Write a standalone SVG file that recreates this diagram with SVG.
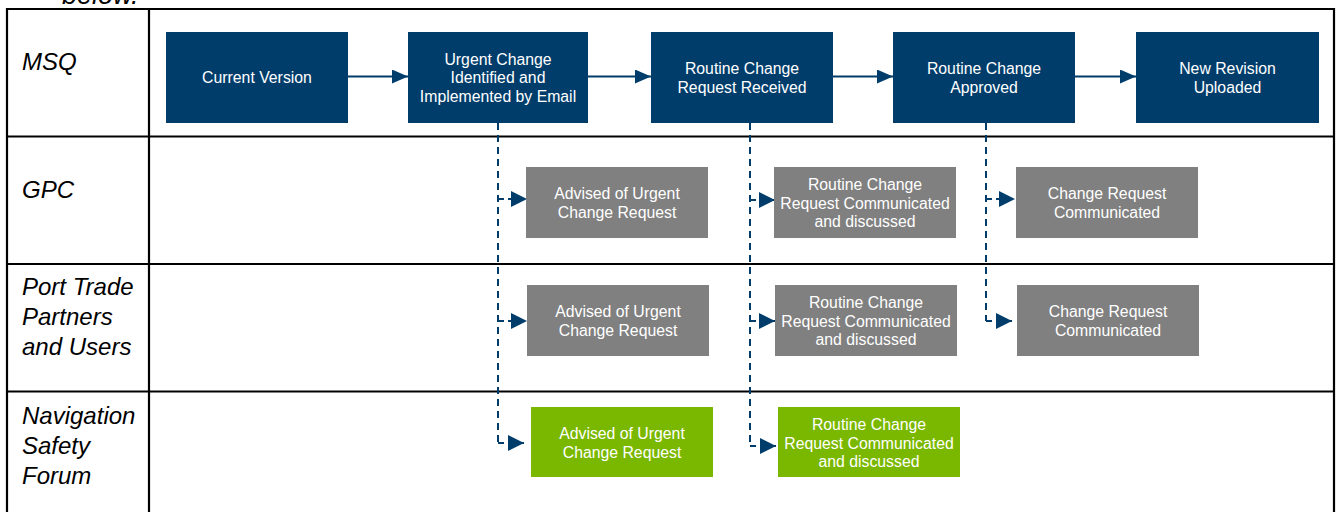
<svg xmlns="http://www.w3.org/2000/svg" width="1338" height="512" viewBox="0 0 1338 512">
<style>
.lane{font-family:"Liberation Sans",Arial,sans-serif;font-style:italic;font-size:24px;fill:#000}
.t{font-family:"Liberation Sans",Arial,sans-serif;font-size:15.8px;fill:#fff;text-anchor:middle}
.msq{fill:#003D6B}
.grey{fill:#808080}
.green{fill:#7AB800}
.grid{stroke:#000;stroke-width:2.2;fill:none}
.solid{stroke:#003D6B;stroke-width:2.2;fill:none;marker-end:url(#ah)}
.dash{stroke:#003D6B;stroke-width:2;fill:none;stroke-dasharray:7 5}
.dh{stroke:#003D6B;stroke-width:2;fill:none;stroke-dasharray:6 4;marker-end:url(#ah2)}
</style>
<defs>
<marker id="ah" markerUnits="userSpaceOnUse" markerWidth="17" markerHeight="15" refX="16" refY="7" orient="auto"><path d="M0,0 L16,7 L0,14 z" fill="#003D6B"/></marker>
<marker id="ah2" markerUnits="userSpaceOnUse" markerWidth="17" markerHeight="17" refX="16" refY="8" orient="auto"><path d="M0,0 L16,8 L0,16 z" fill="#003D6B"/></marker>
</defs>
<rect width="1338" height="512" fill="#fff"/>
<text x="62" y="3.5" font-family="Liberation Sans, Arial, sans-serif" font-style="italic" font-size="27">below.</text>
<g id="table">
<path class="grid" d="M7,520 V9 H1334 V520 M149,9 V520 M7,136.5 H1334 M7,264 H1334 M7,391.5 H1334"/>
</g>
<g id="lane-labels">
<text class="lane" x="22" y="70">MSQ</text>
<text class="lane" x="22" y="198">GPC</text>
<text class="lane" x="22" y="295">Port Trade</text>
<text class="lane" x="22" y="325">Partners</text>
<text class="lane" x="22" y="355">and Users</text>
<text class="lane" x="22" y="424">Navigation</text>
<text class="lane" x="22" y="454">Safety</text>
<text class="lane" x="22" y="484">Forum</text>
</g>
<g id="connectors">
<path class="solid" d="M348,76.5 H408"/>
<path class="solid" d="M588,76.5 H651"/>
<path class="solid" d="M833,76.5 H893"/>
<path class="solid" d="M1075,76.5 H1136"/>
<path class="dash" d="M498,123 V443"/>
<path class="dash" d="M750,123 V446"/>
<path class="dash" d="M986,123 V321"/>
<path class="dh" d="M498,199 H527"/>
<path class="dh" d="M498,321 H527"/>
<path class="dh" d="M498,443 H524"/>
<path class="dh" d="M750,200 H775"/>
<path class="dh" d="M750,321 H775"/>
<path class="dh" d="M750,446 H776"/>
<path class="dh" d="M986,199 H1015"/>
<path class="dh" d="M986,321 H1012"/>
</g>
<g id="msq-current">
<rect class="msq" x="166" y="32" width="182" height="91"/>
<text class="t" x="257" y="83">Current Version</text>
</g>
<g id="msq-urgent">
<rect class="msq" x="408" y="32" width="180" height="91"/>
<text class="t" x="498" y="65">Urgent Change</text>
<text class="t" x="498" y="83">Identified and</text>
<text class="t" x="498" y="101.5">Implemented by Email</text>
</g>
<g id="msq-received">
<rect class="msq" x="651" y="32" width="182" height="91"/>
<text class="t" x="742" y="74">Routine Change</text>
<text class="t" x="742" y="92.5">Request Received</text>
</g>
<g id="msq-approved">
<rect class="msq" x="893" y="32" width="182" height="91"/>
<text class="t" x="984" y="74">Routine Change</text>
<text class="t" x="984" y="92.5">Approved</text>
</g>
<g id="msq-uploaded">
<rect class="msq" x="1136" y="32" width="183" height="91"/>
<text class="t" x="1227.5" y="74">New Revision</text>
<text class="t" x="1227.5" y="92.5">Uploaded</text>
</g>
<g id="gpc-advised">
<rect class="grey" x="526" y="167" width="182" height="71"/>
<text class="t" x="617" y="199">Advised of Urgent</text>
<text class="t" x="617" y="217.5">Change Request</text>
</g>
<g id="gpc-routine">
<rect class="grey" x="774" y="167" width="182" height="71"/>
<text class="t" x="865" y="190">Routine Change</text>
<text class="t" x="865" y="208.5">Request Communicated</text>
<text class="t" x="865" y="227">and discussed</text>
</g>
<g id="gpc-change">
<rect class="grey" x="1016" y="167" width="182" height="71"/>
<text class="t" x="1107" y="199">Change Request</text>
<text class="t" x="1107" y="217.5">Communicated</text>
</g>
<g id="port-advised">
<rect class="grey" x="527" y="285" width="182" height="71"/>
<text class="t" x="618" y="317">Advised of Urgent</text>
<text class="t" x="618" y="335.5">Change Request</text>
</g>
<g id="port-routine">
<rect class="grey" x="775" y="285" width="182" height="71"/>
<text class="t" x="866" y="308">Routine Change</text>
<text class="t" x="866" y="326.5">Request Communicated</text>
<text class="t" x="866" y="345">and discussed</text>
</g>
<g id="port-change">
<rect class="grey" x="1017" y="285" width="182" height="71"/>
<text class="t" x="1108" y="317">Change Request</text>
<text class="t" x="1108" y="335.5">Communicated</text>
</g>
<g id="nsf-advised">
<rect class="green" x="531" y="407" width="182" height="70"/>
<text class="t" x="622" y="439">Advised of Urgent</text>
<text class="t" x="622" y="457.5">Change Request</text>
</g>
<g id="nsf-routine">
<rect class="green" x="778" y="407" width="182" height="70"/>
<text class="t" x="869" y="430">Routine Change</text>
<text class="t" x="869" y="448.5">Request Communicated</text>
<text class="t" x="869" y="467">and discussed</text>
</g>
</svg>
